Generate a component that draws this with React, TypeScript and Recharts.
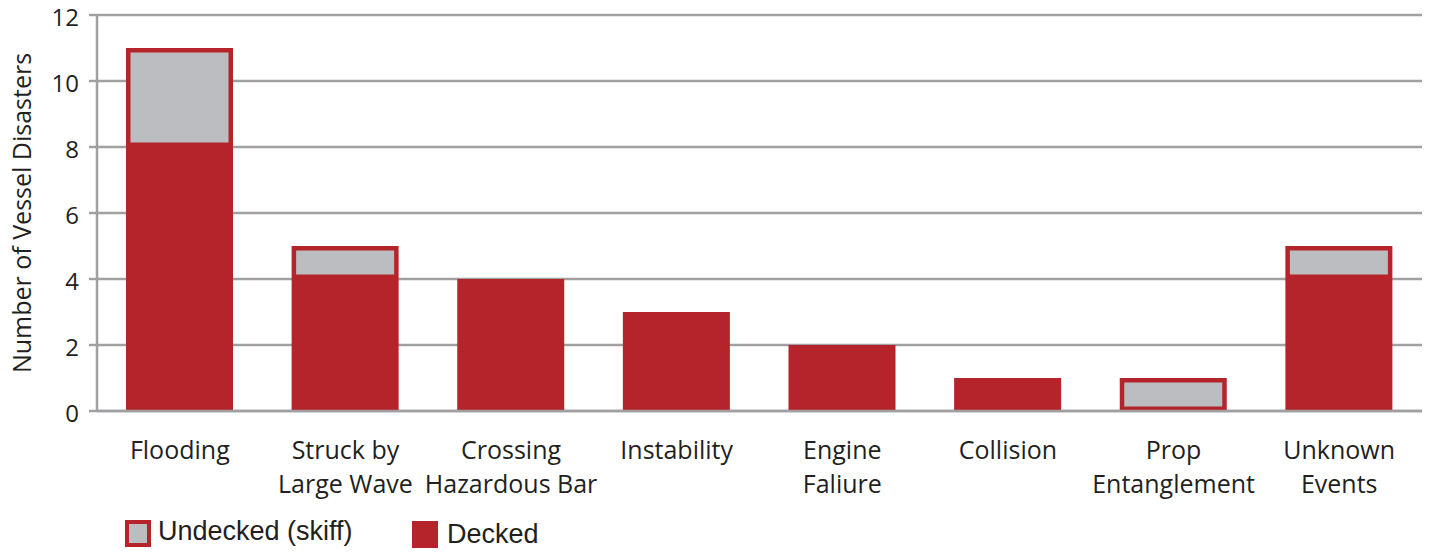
import React from "react";
import { ComposedChart, Bar, XAxis, YAxis, CartesianGrid, Legend } from "recharts";

const categories = [
  "Flooding",
  "Struck by\nLarge Wave",
  "Crossing\nHazardous Bar",
  "Instability",
  "Engine\nFaliure",
  "Collision",
  "Prop\nEntanglement",
  "Unknown\nEvents",
];
const decked = [8, 4, 4, 3, 2, 1, 0, 4];
const undecked = [3, 1, 0, 0, 0, 0, 1, 1];
const yTicks = [0, 2, 4, 6, 8, 10, 12];

const RED = "#b5242a";
const GREY = "#bcbdc0";
const GRID = "#a0a0a2";
const TEXT = "#231f20";
const FONT = "'Open Sans', 'Noto Sans', sans-serif";

const data = categories.map((name, i) => ({
  name,
  decked: decked[i],
  undecked: undecked[i],
}));

// stroke drawn inside the rect, like the reference
const InsetRect = (props: any) => {
  const { x, y, width, height } = props;
  if (!height || height <= 0) return null;
  const sw = 4.5;
  return (
    <rect
      x={x + sw / 2}
      y={y + sw / 2}
      width={width - sw}
      height={height - sw}
      fill={GREY}
      stroke={RED}
      strokeWidth={sw}
    />
  );
};

const CategoryTick = (props: any) => {
  const { x, y, payload } = props;
  const lines = String(payload.value).split("\n");
  return (
    <text x={x} y={y} textAnchor="middle" fill={TEXT} fontSize={25} fontFamily={FONT}>
      {lines.map((l, i) => (
        <tspan key={i} x={x} dy={i === 0 ? 40 : 34}>
          {l}
        </tspan>
      ))}
    </text>
  );
};

const ValueTick = (props: any) => {
  const { x, y, payload } = props;
  return (
    <text x={x} y={y + 10.5} textAnchor="end" fill={TEXT} fontSize={24} fontFamily={FONT}>
      {payload.value}
    </text>
  );
};

const LegendContent = () => (
  <div style={{ position: "relative", height: 41, fontFamily: "'Liberation Sans', Arial, sans-serif", fontSize: 27, color: TEXT }}>
    <div style={{ position: "absolute", left: 125, top: 9, width: 26, height: 27, boxSizing: "border-box", background: GREY, border: `4px solid ${RED}` }} />
    <div style={{ position: "absolute", left: 158, top: 5, lineHeight: "30px", whiteSpace: "nowrap" }}>Undecked (skiff)</div>
    <div style={{ position: "absolute", left: 412, top: 10, width: 26, height: 27, background: RED }} />
    <div style={{ position: "absolute", left: 447, top: 8, lineHeight: "30px", whiteSpace: "nowrap" }}>Decked</div>
  </div>
);

export default function App() {
  return (
    <div style={{ width: 1430, height: 552, position: "absolute", left: 0, top: 0, background: "#fff" }}>
      <ComposedChart
        width={1430}
        height={552}
        data={data}
        margin={{ top: 15, right: 8, bottom: 0, left: 0 }}
      >
        <CartesianGrid vertical={false} stroke={GRID} strokeWidth={2.5} />
        <XAxis
          dataKey="name"
          interval={0}
          height={100}
          tickLine={false}
          axisLine={{ stroke: GRID, strokeWidth: 2.5 }}
          tick={<CategoryTick />}
        />
        <YAxis
          width={97}
          domain={[0, 12]}
          ticks={yTicks}
          tickSize={8}
          tickMargin={10}
          tickLine={{ stroke: GRID, strokeWidth: 2.5 }}
          axisLine={{ stroke: GRID, strokeWidth: 2.5 }}
          tick={<ValueTick />}
          label={{
            value: "Number of Vessel Disasters",
            angle: -90,
            position: "insideLeft",
            offset: 0,
            dx: 22,
            style: { textAnchor: "middle", fill: TEXT, fontSize: 25, fontFamily: FONT },
          }}
        />
        <Legend
          verticalAlign="bottom"
          align="left"
          wrapperStyle={{ height: 41, width: 1430, left: 0 }}
          content={<LegendContent />}
        />
        <Bar dataKey="decked" stackId="a" fill={RED} barSize={107} isAnimationActive={false} />
        <Bar dataKey="undecked" stackId="a" barSize={107} shape={<InsetRect />} isAnimationActive={false} />
      </ComposedChart>
    </div>
  );
}
